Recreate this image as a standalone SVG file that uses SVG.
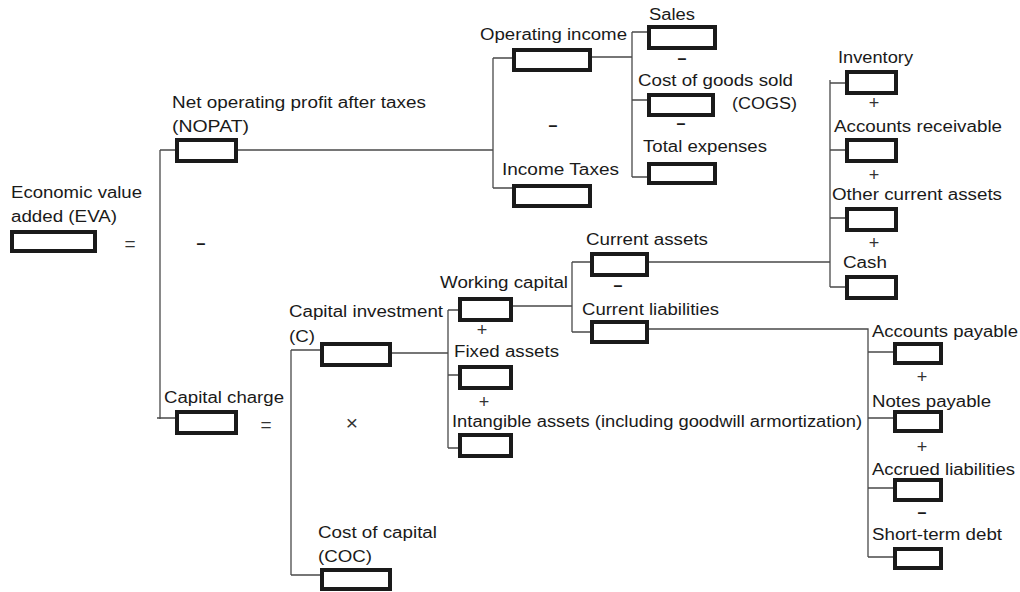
<svg xmlns="http://www.w3.org/2000/svg" width="1020" height="592" viewBox="0 0 1020 592">
<style>
text{font-family:"Liberation Sans",Arial,Helvetica,sans-serif;font-size:16px;fill:#1a1a1a}
.box{fill:#fff;stroke:#1a1a1a;stroke-width:4}
.con{fill:none;stroke:#4a4a4a;stroke-width:1.3}
.op{font-size:18px;text-anchor:middle;fill:#333}
.mul{font-size:21px;text-anchor:middle;fill:#333}
.eq{font-size:19px;text-anchor:middle;fill:#333}
.dash{font-size:16px;font-weight:bold;text-anchor:middle}
</style>
<rect width="1020" height="592" fill="#fff"/>
<g id="connectors" class="con">
<path d="M160 150V419M160 150H175M157 418H175"/>
<path d="M238 150H493M493 58V188M493 58H512M493 188H512"/>
<path d="M592 57H632M632 32V177M632 32H647M632 100H647M632 177H647"/>
<path d="M291 350V575M291 350H320M291 575H320"/>
<path d="M392 353H448M448 310V448M448 310H458M448 375H458M448 448H458"/>
<path d="M513 306H572M572 262V332M572 262H590M572 332H590"/>
<path d="M649 262H830M830 80V287M830 83H845M830 150H845M830 218H845M830 287H845"/>
<path d="M649 329H868V557M868 352H893M868 418H893M868 488H893M868 557H893"/>
</g>
<g id="eva"><text x="11" y="198" textLength="131" lengthAdjust="spacingAndGlyphs">Economic value</text><text x="11" y="222" textLength="106" lengthAdjust="spacingAndGlyphs">added (EVA)</text><rect class="box" x="12" y="232" width="83" height="19"/></g>
<g id="nopat"><text x="172" y="108" textLength="254" lengthAdjust="spacingAndGlyphs">Net operating profit after taxes</text><text x="172" y="132" textLength="77" lengthAdjust="spacingAndGlyphs">(NOPAT)</text><rect class="box" x="177" y="140" width="59" height="21"/></g>
<g id="capital-charge"><text x="164" y="403" textLength="120" lengthAdjust="spacingAndGlyphs">Capital charge</text><rect class="box" x="177" y="412" width="59" height="21"/></g>
<g id="operating-income"><text x="480" y="40" textLength="147" lengthAdjust="spacingAndGlyphs">Operating income</text><rect class="box" x="514" y="50" width="76" height="20"/></g>
<g id="income-taxes"><text x="502" y="175" textLength="117" lengthAdjust="spacingAndGlyphs">Income Taxes</text><rect class="box" x="514" y="186" width="76" height="20"/></g>
<g id="sales"><text x="649" y="20" textLength="46" lengthAdjust="spacingAndGlyphs">Sales</text><rect class="box" x="649" y="27" width="66" height="21"/></g>
<g id="cogs"><text x="638" y="86" textLength="155" lengthAdjust="spacingAndGlyphs">Cost of goods sold</text><text x="732" y="109" textLength="65" lengthAdjust="spacingAndGlyphs">(COGS)</text><rect class="box" x="649" y="95" width="64" height="20"/></g>
<g id="total-expenses"><text x="643" y="152" textLength="124" lengthAdjust="spacingAndGlyphs">Total expenses</text><rect class="box" x="649" y="164" width="66" height="19"/></g>
<g id="inventory"><text x="838" y="63" textLength="75" lengthAdjust="spacingAndGlyphs">Inventory</text><rect class="box" x="847" y="72" width="49" height="21"/></g>
<g id="accounts-receivable"><text x="834" y="132" textLength="168" lengthAdjust="spacingAndGlyphs">Accounts receivable</text><rect class="box" x="847" y="140" width="49" height="21"/></g>
<g id="other-current-assets"><text x="832" y="200" textLength="170" lengthAdjust="spacingAndGlyphs">Other current assets</text><rect class="box" x="847" y="209" width="49" height="21"/></g>
<g id="cash"><text x="843" y="268" textLength="44" lengthAdjust="spacingAndGlyphs">Cash</text><rect class="box" x="847" y="277" width="49" height="21"/></g>
<g id="capital-investment"><text x="289" y="317" textLength="154" lengthAdjust="spacingAndGlyphs">Capital investment</text><text x="289" y="342" textLength="26" lengthAdjust="spacingAndGlyphs">(C)</text><rect class="box" x="322" y="344" width="68" height="21"/></g>
<g id="cost-of-capital"><text x="318" y="538" textLength="119" lengthAdjust="spacingAndGlyphs">Cost of capital</text><text x="318" y="562" textLength="54" lengthAdjust="spacingAndGlyphs">(COC)</text><rect class="box" x="322" y="570" width="68" height="19"/></g>
<g id="working-capital"><text x="440" y="288" textLength="128" lengthAdjust="spacingAndGlyphs">Working capital</text><rect class="box" x="460" y="299" width="51" height="21"/></g>
<g id="fixed-assets"><text x="454" y="357" textLength="105" lengthAdjust="spacingAndGlyphs">Fixed assets</text><rect class="box" x="460" y="367" width="51" height="21"/></g>
<g id="intangible-assets"><text x="452" y="427" textLength="410" lengthAdjust="spacingAndGlyphs">Intangible assets (including goodwill armortization)</text><rect class="box" x="460" y="435" width="51" height="21"/></g>
<g id="current-assets"><text x="586" y="245" textLength="122" lengthAdjust="spacingAndGlyphs">Current assets</text><rect class="box" x="592" y="254" width="55" height="21"/></g>
<g id="current-liabilities"><text x="582" y="315" textLength="137" lengthAdjust="spacingAndGlyphs">Current liabilities</text><rect class="box" x="592" y="322" width="55" height="20"/></g>
<g id="accounts-payable"><text x="872" y="337" textLength="146" lengthAdjust="spacingAndGlyphs">Accounts payable</text><rect class="box" x="895" y="344" width="46" height="19"/></g>
<g id="notes-payable"><text x="872" y="407" textLength="119" lengthAdjust="spacingAndGlyphs">Notes payable</text><rect class="box" x="895" y="412" width="46" height="19"/></g>
<g id="accrued-liabilities"><text x="872" y="475" textLength="143" lengthAdjust="spacingAndGlyphs">Accrued liabilities</text><rect class="box" x="895" y="480" width="46" height="20"/></g>
<g id="short-term-debt"><text x="872" y="540" textLength="130" lengthAdjust="spacingAndGlyphs">Short-term debt</text><rect class="box" x="895" y="549" width="46" height="19"/></g>
<g id="operators">
<text class="eq" x="130" y="250">=</text>
<text class="eq" x="266" y="431">=</text>
<text class="mul" x="352" y="430">×</text>
<text class="dash" x="201" y="249">–</text>
<text class="dash" x="553" y="131">–</text>
<text class="dash" x="682" y="64">–</text>
<text class="dash" x="681" y="129">–</text>
<text class="dash" x="618" y="291">–</text>
<text class="dash" x="922" y="518">–</text>
<text class="op" x="874" y="109">+</text>
<text class="op" x="874" y="181">+</text>
<text class="op" x="874" y="249">+</text>
<text class="op" x="482" y="336">+</text>
<text class="op" x="484" y="408">+</text>
<text class="op" x="922" y="383">+</text>
<text class="op" x="922" y="453">+</text>
</g>
</svg>
